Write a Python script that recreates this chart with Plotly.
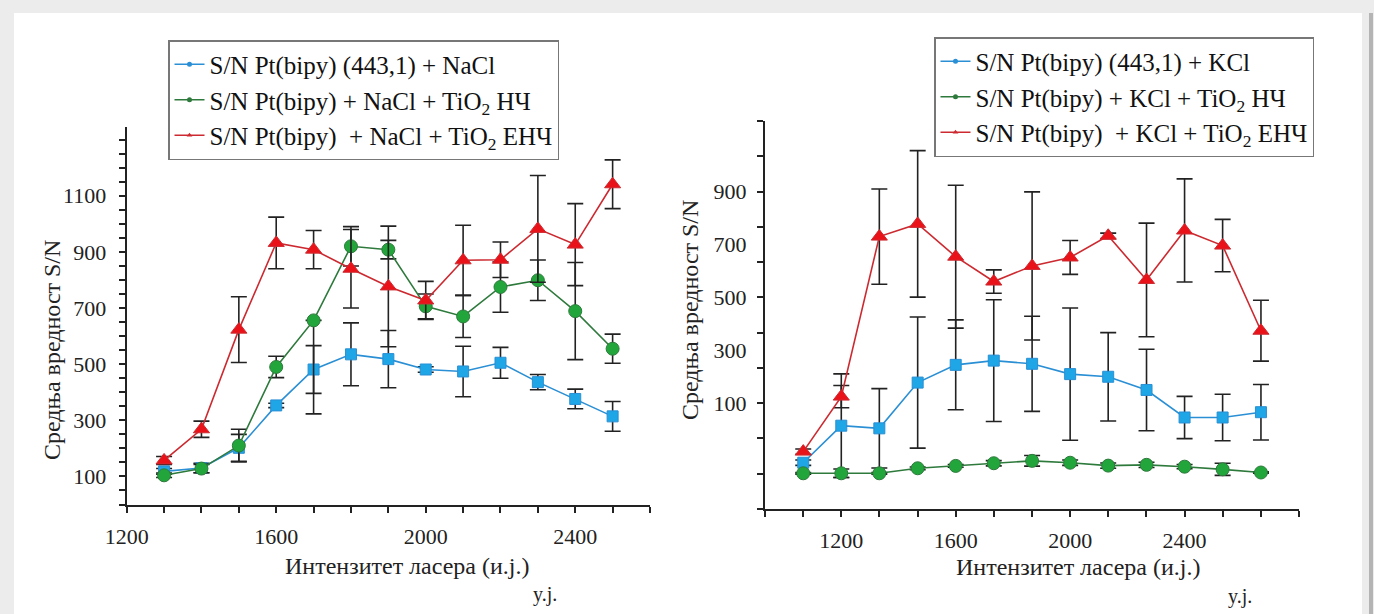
import plotly.graph_objects as go

# ---------------- data ----------------
# Left panel (NaCl)
x_nacl = [1300, 1400, 1500, 1600, 1700, 1800, 1900, 2000, 2100, 2200, 2300, 2400, 2500]
blue_nacl = [118, 130, 202, 353, 481, 535, 518, 481, 474, 505, 436, 376, 314]
blue_nacl_err = [10, 17, 48, 8, 85, 112, 102, 10, 90, 55, 27, 35, 53]
green_nacl = [104, 128, 210, 490, 656, 920, 908, 706, 670, 775, 799, 689, 555]
green_nacl_err_plus = [8, 15, 58, 38, 0, 70, 33, 44, 75, 90, 72, 173, 52]
green_nacl_err_minus = [8, 15, 58, 38, 333, 70, 33, 44, 75, 90, 72, 173, 52]
red_nacl = [157, 268, 623, 932, 908, 840, 777, 727, 870, 872, 982, 926, 1141]
red_nacl_err = [14, 29, 117, 92, 68, 140, 215, 68, 125, 63, 190, 146, 87]

# Right panel (KCl)
x_kcl = [1067, 1200, 1333, 1467, 1600, 1733, 1867, 2000, 2133, 2267, 2400, 2533, 2667]
blue_kcl = [-125, 15, 5, 178, 245, 261, 249, 210, 200, 150, 46, 46, 66]
blue_kcl_err = [10, 196, 150, 248, 170, 230, 180, 250, 167, 154, 80, 88, 105]
green_kcl = [-165, -165, -165, -146, -137, -127, -118, -125, -136, -133, -140, -150, -162]
green_kcl_err = [3, 16, 3, 5, 5, 10, 20, 10, 10, 10, 8, 23, 3]
red_kcl = [-83, 125, 730, 778, 654, 560, 619, 651, 733, 566, 753, 696, 374]
red_kcl_err = [10, 42, 180, 277, 270, 44, 280, 64, 10, 215, 195, 99, 115]

names_nacl = [
    "S/N Pt(bipy) (443,1) + NaCl",
    "S/N Pt(bipy) + NaCl + TiO<sub>2</sub> НЧ",
    "S/N Pt(bipy) &nbsp;+ NaCl + TiO<sub>2</sub> ЕНЧ",
]
names_kcl = [
    "S/N Pt(bipy) (443,1) + KCl",
    "S/N Pt(bipy) + KCl + TiO<sub>2</sub> НЧ",
    "S/N Pt(bipy) &nbsp;+ KCl + TiO<sub>2</sub> ЕНЧ",
]
x_ticks = [1200, 1600, 2000, 2400]
y_ticks_left = [100, 300, 500, 700, 900, 1100]
y_ticks_right = [100, 300, 500, 700, 900]
x_title = "Интензитет ласера (и.ј.)"
y_title = "Средња вредност S/N"
unit_note = "y.j."

# ---------------- styles ----------------
W, H = 1374, 614
SERIF = "Liberation Serif, Times New Roman, Times, DejaVu Serif, serif"
BLUE_F, BLUE_L = "#1ea6e6", "#2a8fd4"
GREEN_F, GREEN_L = "#22a63c", "#2e7a3c"
RED_F, RED_L = "#ea1219", "#cc2a30"
ERR = "#222222"

def err(arr, arrminus=None):
    d = dict(type="data", array=arr, color=ERR, thickness=1.6, width=8, visible=True)
    if arrminus is not None:
        d["symmetric"] = False
        d["arrayminus"] = arrminus
    return d

fig = go.Figure()

def add_series(x, y, e, fill, line, symbol, size, xa, ya, em=None):
    fig.add_trace(go.Scatter(
        x=x, y=y, mode="lines+markers", xaxis=xa, yaxis=ya, showlegend=False,
        line=dict(color=line, width=1.6),
        marker=dict(symbol=symbol, size=size, color=fill, line=dict(color=line, width=1)),
        error_y=err(e, em),
    ))

add_series(x_nacl, blue_nacl, blue_nacl_err, BLUE_F, BLUE_L, "square", 11, "x", "y")
add_series(x_nacl, green_nacl, green_nacl_err_plus, GREEN_F, GREEN_L, "circle", 13, "x", "y", green_nacl_err_minus)
add_series(x_nacl, red_nacl, red_nacl_err, RED_F, RED_L, "triangle-up", 14, "x", "y")

add_series(x_kcl, blue_kcl, blue_kcl_err, BLUE_F, BLUE_L, "square", 11, "x2", "y2")
add_series(x_kcl, green_kcl, green_kcl_err, GREEN_F, GREEN_L, "circle", 13, "x2", "y2")
add_series(x_kcl, red_kcl, red_kcl_err, RED_F, RED_L, "triangle-up", 14, "x2", "y2")

# legend-only entries (small symbols like the reference)
for names, lg, xa, ya in [(names_nacl, "legend", "x", "y"), (names_kcl, "legend2", "x2", "y2")]:
    for nm, col, sym in zip(names, [BLUE_L, GREEN_L, RED_L], ["circle", "circle", "triangle-up"]):
        fig.add_trace(go.Scatter(
            x=[None], y=[None], mode="lines+markers", name=nm, legend=lg,
            xaxis=xa, yaxis=ya, line=dict(color=col, width=1.6),
            marker=dict(symbol=sym, size=5, color=col),
        ))

tickfont = dict(family=SERIF, size=22, color="#222")
axis_common = dict(
    showline=True, linewidth=2, linecolor="#222", showgrid=False, zeroline=False,
    ticks="outside", ticklen=6, tickwidth=1.6, tickcolor="#222", tickfont=tickfont,
    automargin=False,
)

def px_x(p):
    return p / W

def px_y(p):
    return 1 - p / H

fig.update_layout(
    width=W, height=H, autosize=False,
    margin=dict(l=0, r=0, t=0, b=0, pad=0, autoexpand=False),
    paper_bgcolor="#ececec",
    plot_bgcolor="rgba(0,0,0,0)",
    font=dict(family=SERIF, color="#222"),
    xaxis=dict(axis_common, domain=[px_x(126.7), px_x(650)], range=[1200, 2600], anchor="y",
               tickmode="array", tickvals=x_ticks, ticklabelstandoff=5,
               minor=dict(tick0=1200, dtick=100, ticks="outside", ticklen=6, tickwidth=1.6, tickcolor="#222")),
    yaxis=dict(axis_common, domain=[px_y(504.5), px_y(127)], range=[0, 1345], anchor="x",
               tickmode="array", tickvals=y_ticks_left, ticklabelstandoff=8,
               minor=dict(tick0=0, dtick=50, ticks="outside", ticklen=6, tickwidth=1.6, tickcolor="#222")),
    xaxis2=dict(axis_common, domain=[px_x(765), px_x(1299)], range=[933.33, 2800], anchor="y2",
                tickmode="array", tickvals=x_ticks, ticklabelstandoff=5,
                minor=dict(tick0=1200, dtick=133.333, ticks="outside", ticklen=6, tickwidth=1.6, tickcolor="#222")),
    yaxis2=dict(axis_common, domain=[px_y(509), px_y(121)], range=[-300, 1167], anchor="x2",
                tickmode="array", tickvals=y_ticks_right, ticks="", ticklabelstandoff=12,
                minor=dict(tick0=100, dtick=133.333, ticks="outside", ticklen=6, tickwidth=1.6, tickcolor="#222")),
    legend=dict(x=px_x(168), y=px_y(40), xanchor="left", yanchor="top",
                bgcolor="white", bordercolor="#777", borderwidth=1.5,
                font=dict(family=SERIF, size=25, color="#111"), tracegroupgap=0, itemwidth=30),
    legend2=dict(x=px_x(934), y=px_y(37), xanchor="left", yanchor="top",
                 bgcolor="white", bordercolor="#777", borderwidth=1.5,
                 font=dict(family=SERIF, size=25, color="#111"), tracegroupgap=0, itemwidth=30),
    shapes=[
        dict(type="rect", xref="paper", yref="paper", x0=px_x(14), x1=px_x(1362), y0=0, y1=px_y(13),
             fillcolor="white", line=dict(width=0), layer="below"),
        dict(type="line", xref="paper", yref="paper", x0=px_x(1371), x1=px_x(1371), y0=0, y1=px_y(13),
             line=dict(color="#b4b4b4", width=4), layer="below"),
    ],
)

ann_font = dict(family=SERIF, size=24, color="#222")
annotations = [
    dict(text=x_title, x=px_x(407), y=px_y(566)),
    dict(text=x_title, x=px_x(1078), y=px_y(567)),
    dict(text=y_title, x=px_x(52), y=px_y(350), textangle=-90),
    dict(text=y_title, x=px_x(690), y=px_y(310), textangle=-90),
    dict(text=unit_note, x=px_x(545), y=px_y(594), size=20),
    dict(text=unit_note, x=px_x(1240), y=px_y(596), size=20),
]
for a in annotations:
    size = a.pop("size", 24)
    fig.add_annotation(xref="paper", yref="paper", showarrow=False, xanchor="center", yanchor="middle",
                       font=dict(ann_font, size=size), **a)

fig.write_html(
    "out.html",
    config={"displayModeBar": False},
    post_script="document.body.style.margin='0';document.body.style.overflow='hidden';"
                "document.documentElement.style.overflow='hidden';",
)
